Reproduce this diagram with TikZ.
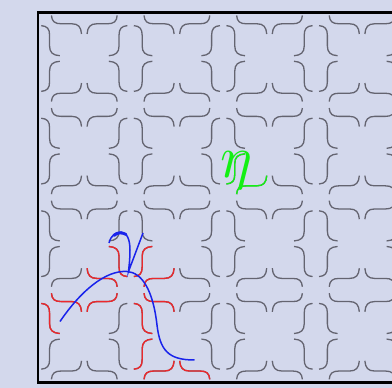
\documentclass[tikz,border=0pt]{standalone}
\usepackage{xcolor}
\usepackage{tikz}
\usetikzlibrary{calc}

\definecolor{paper}{RGB}{211,216,236}
\definecolor{tilegray}{RGB}{100,100,112}
\definecolor{hotred}{RGB}{236,40,44}
\definecolor{curveblue}{RGB}{25,35,235}
\definecolor{etagreen}{RGB}{20,240,20}

\newcommand{\hquart}[5]{%
  \draw[#5, shift={({38+92.6*#1+46.3},{12.2+92.6*#2+46.3})}, xscale={46.3*(#3)}, yscale={46.3*(#4)}]
    (-0.71,-0.93) .. controls (-0.70,-0.80) and (-0.64,-0.75) .. (-0.50,-0.75)
    -- (-0.27,-0.75) .. controls (-0.13,-0.75) and (-0.07,-0.68) .. (-0.06,-0.53);}
\newcommand{\vquart}[5]{%
  \draw[#5, shift={({38+92.6*#1+46.3},{12.2+92.6*#2+46.3})}, xscale={46.3*(#3)}, yscale={46.3*(#4)}]
    (-0.93,-0.71) .. controls (-0.80,-0.70) and (-0.75,-0.64) .. (-0.75,-0.50)
    -- (-0.75,-0.27) .. controls (-0.75,-0.13) and (-0.68,-0.07) .. (-0.53,-0.06);}

\begin{document}
\begin{tikzpicture}[
    x=1pt, y=-1pt,
    tile/.style={draw=tilegray, line width=1.3pt},
    hot/.style={draw=hotred, line width=1.35pt},
    lit/.style={draw=etagreen, line width=1.35pt},
    curve/.style={draw=curveblue, line width=1.5pt}
]
\useasboundingbox (0,0) rectangle (392,388);
\clip (0,0) rectangle (392,388);
\fill[paper] (0,0) rectangle (392,388);

\foreach \i in {0,...,3}
  \foreach \j in {0,...,3}
    \foreach \sx in {-1,1}
      \foreach \sy in {-1,1} {
        \hquart{\i}{\j}{\sx}{\sy}{tile}
        \vquart{\i}{\j}{\sx}{\sy}{tile}
      }

% pieces along the curve
\hquart{0}{2}{-1}{-1}{hot} \vquart{0}{2}{-1}{-1}{hot}
\hquart{1}{2}{1}{-1}{hot}  \vquart{1}{2}{1}{-1}{hot}
\hquart{0}{3}{1}{1}{hot}   \vquart{0}{3}{1}{1}{hot}
\hquart{0}{3}{-1}{1}{hot}
\hquart{1}{3}{1}{1}{hot}   \vquart{1}{3}{1}{1}{hot}
\hquart{1}{3}{1}{-1}{hot}  \vquart{1}{3}{1}{-1}{hot}
\hquart{1}{3}{-1}{-1}{hot}
\hquart{2}{1}{1}{-1}{lit}  \vquart{2}{1}{1}{-1}{lit}

\draw[curve] (60,321.5) .. controls (80,292) and (105,270) .. (127,271.5)
    .. controls (142,272.5) and (153,290) .. (157,325)
    .. controls (160,350) and (168,360) .. (194.5,360);
\draw[curve] (109,243) .. controls (111,235) and (116,232) .. (121,232)
    .. controls (127,232) and (130,240) .. (130,250)
    .. controls (130,260) and (129,266) .. (128.5,271.5) -- (143,233);
\draw[curve, line width=2.8pt, line cap=round] (114,235.5) .. controls (117,232.6) and (122,232) .. (126,234.5);

\node[text=etagreen, anchor=base west, inner sep=0pt] (eta) at (220,177) {\scalebox{6}{$\eta$}};

\draw[line width=2.6pt] (38,12.2) rectangle (408.4,382.6);
\end{tikzpicture}
\end{document}
